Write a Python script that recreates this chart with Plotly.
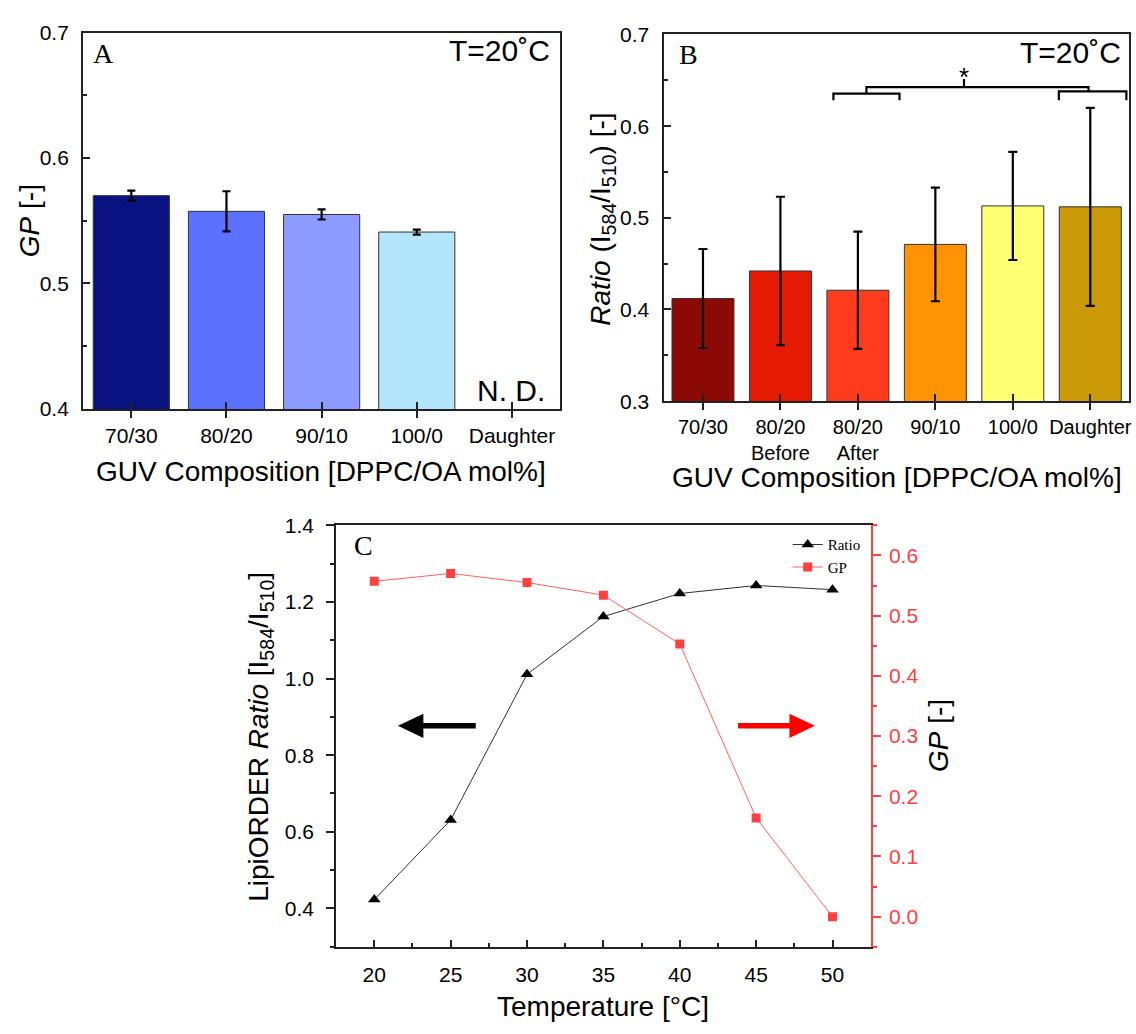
import plotly.graph_objects as go

W, H = 1136, 1034


def px(x):
    return x / W


def py(y):
    return 1 - y / H


SANS = "Liberation Sans, Arial, sans-serif"
SERIF = "Liberation Serif, Times New Roman, serif"

# ---------------- data ----------------
cats_a = ["70/30", "80/20", "90/10", "100/0", "Daughter"]
gp_a = [0.570, 0.5575, 0.555, 0.541, None]
gp_a_err = [0.004, 0.016, 0.004, 0.002, None]
colors_a = ["#0a1282", "#5b72ff", "#8d9aff", "#b3e5fb", "#ffffff"]

cats_b = ["70/30", "80/20<br>Before", "80/20<br>After", "90/10", "100/0", "Daughter"]
ratio_b = [0.412, 0.442, 0.421, 0.471, 0.513, 0.512]
ratio_b_err = [0.054, 0.081, 0.064, 0.062, 0.059, 0.108]
colors_b = ["#8b0a05", "#e41a02", "#ff3b1e", "#ff9304", "#ffff74", "#cc9a06"]

temps = [20, 25, 30, 35, 40, 45, 50]
ratio_c = [0.423, 0.631, 1.011, 1.162, 1.222, 1.243, 1.232]
gp_c = [0.557, 0.570, 0.555, 0.534, 0.453, 0.164, 0.000]

RED = "#ff4040"
AX = "#222222"

fig = go.Figure()

fig.add_trace(go.Bar(
    x=cats_a, y=gp_a, width=0.8,
    marker=dict(color=colors_a, line=dict(color="#333333", width=1)),
    error_y=dict(type="data", array=gp_a_err, color="black", thickness=2.2, width=4),
    xaxis="x", yaxis="y", showlegend=False,
))

fig.add_trace(go.Bar(
    x=cats_b, y=ratio_b, width=0.8,
    marker=dict(color=colors_b, line=dict(color="#333333", width=1)),
    error_y=dict(type="data", array=ratio_b_err, color="black", thickness=2.2, width=4.5),
    xaxis="x2", yaxis="y2", showlegend=False,
))

fig.add_trace(go.Scatter(
    x=temps, y=ratio_c, mode="lines+markers", name="Ratio",
    line=dict(color="#333333", width=1),
    marker=dict(symbol="triangle-up", size=11, color="black"),
    xaxis="x3", yaxis="y3",
))

fig.add_trace(go.Scatter(
    x=temps, y=gp_c, mode="lines+markers", name="GP",
    line=dict(color="#ff6060", width=1),
    marker=dict(symbol="square", size=9, color=RED),
    xaxis="x3", yaxis="y4",
))

# empty helper traces so the inner-tick overlay axes of panels A and B get drawn
fig.add_trace(go.Scatter(x=[], y=[], xaxis="x4", yaxis="y", showlegend=False, hoverinfo="skip"))
fig.add_trace(go.Scatter(x=[], y=[], xaxis="x5", yaxis="y2", showlegend=False, hoverinfo="skip"))

tickfont = dict(family=SANS, size=21, color="black")
tickfont_b = dict(family=SANS, size=20, color="black")
box = dict(showline=True, linecolor=AX, linewidth=1.5, mirror=True,
           showgrid=False, zeroline=False)

fig.update_layout(
    width=W, height=H,
    margin=dict(l=0, r=0, t=0, b=0),
    paper_bgcolor="white", plot_bgcolor="white",
    xaxis=dict(domain=[px(83), px(561)], anchor="y", range=[-0.51, 4.5],
               ticks="outside", ticklen=7, tickcolor=AX, tickwidth=1.5, tickfont=tickfont, **box),
    xaxis4=dict(overlaying="x", anchor="y", range=[-0.51, 4.5],
                tickvals=list(range(len(cats_a))), ticks="inside", ticklen=7, tickwidth=1.5,
                tickcolor=AX, showticklabels=False, showline=False, showgrid=False,
                zeroline=False),
    yaxis=dict(domain=[py(406), py(21)], anchor="x", range=[0.4, 0.7], dtick=0.1,
               tickformat=".1f", ticks="inside", ticklen=7, tickcolor=AX, tickwidth=1.5,
               minor=dict(dtick=0.05, ticks="inside", ticklen=4, tickcolor=AX),
               tickfont=tickfont, ticklabelstandoff=8, **box),
    xaxis2=dict(domain=[px(666), px(1132)], anchor="y2", range=[-0.5, 5.5],
                ticks="outside", ticklen=7, tickcolor=AX, tickwidth=1.5, tickfont=tickfont_b, **box),
    xaxis5=dict(overlaying="x2", anchor="y2", range=[-0.5, 5.5],
                tickvals=list(range(len(cats_b))), ticks="inside", ticklen=7, tickwidth=1.5,
                tickcolor=AX, showticklabels=False, showline=False, showgrid=False,
                zeroline=False),
    yaxis2=dict(domain=[py(398), py(23)], anchor="x2", range=[0.3, 0.7], dtick=0.1,
                tickformat=".1f", ticks="inside", ticklen=7, tickcolor=AX, tickwidth=1.5,
                minor=dict(dtick=0.05, ticks="inside", ticklen=4, tickcolor=AX),
                tickfont=tickfont, ticklabelstandoff=9, **box),
    xaxis3=dict(domain=[px(337), px(873)], anchor="y3", range=[17.5, 52.5], dtick=5,
                ticks="inside", ticklen=7, tickcolor=AX, tickwidth=1.5, tickfont=tickfont,
                minor=dict(dtick=2.5, ticks="inside", ticklen=4, tickcolor=AX),
                ticklabelstandoff=8,
                showline=True, linecolor=AX, linewidth=2, mirror=True,
                showgrid=False, zeroline=False),
    yaxis3=dict(domain=[py(956), py(525)], anchor="x3", range=[0.3, 1.4], dtick=0.2,
                tickformat=".1f", ticks="outside", ticklen=8, tickcolor=AX, tickwidth=1.5,
                minor=dict(dtick=0.1, ticks="outside", ticklen=4, tickcolor=AX),
                tickfont=tickfont, ticklabelstandoff=8,
                showline=True, linecolor=AX, linewidth=2,
                showgrid=False, zeroline=False),
    yaxis4=dict(overlaying="y3", anchor="x3", side="right", range=[-0.05, 0.65], dtick=0.1,
                tickformat=".1f", ticks="outside", ticklen=8, tickcolor=RED, tickwidth=1.5,
                minor=dict(dtick=0.05, ticks="outside", ticklen=4, tickcolor=RED),
                tickfont=dict(family=SANS, size=21, color=RED), ticklabelstandoff=4,
                showline=True, linecolor=RED, linewidth=2,
                showgrid=False, zeroline=False),
    legend=dict(x=px(868), y=py(528), xanchor="right", yanchor="top",
                bgcolor="rgba(0,0,0,0)", font=dict(family=SERIF, size=15, color="black"),
                tracegroupgap=0, itemwidth=30),
)

ann = []


def add_text(text, x, y, size=28, family=SANS, xanchor="center", yanchor="middle",
             textangle=0, color="black"):
    ann.append(dict(text=text, x=px(x), y=py(y), xref="paper", yref="paper",
                    xanchor=xanchor, yanchor=yanchor, showarrow=False, textangle=textangle,
                    font=dict(family=family, size=size, color=color)))


# axis titles
add_text("<i>GP</i> [-]", 29, 213, textangle=-90)
add_text("GUV Composition [DPPC/OA mol%]", 322, 470)
add_text("<i>Ratio</i> (I<sub>584</sub>/I<sub>510</sub>) [-]", 604, 212, textangle=-90)
add_text("GUV Composition [DPPC/OA mol%]", 899, 476)
add_text("LipiORDER <i>Ratio</i> [I<sub>584</sub>/I<sub>510</sub>]", 261, 741, textangle=-90)
add_text("<i>GP</i> [-]", 941, 740, textangle=-90)
add_text("Temperature [°C]", 605, 1017)

# panel labels and notes
add_text("A", 91, 42, size=28, family=SERIF, xanchor="left")
add_text("T=20˚C", 553, 39, size=30, xanchor="right")
add_text("N. D.", 548, 387, size=30, xanchor="right")
add_text("B", 679, 43, size=28, family=SERIF, xanchor="left")
add_text("T=20˚C", 1126, 41, size=30, xanchor="right")
add_text("C", 353, 546, size=28, family=SERIF, xanchor="left")

# significance asterisk (panel B data coordinates)
ann.append(dict(text="*", x=3.37, y=0.6534, xref="x2", yref="y2", showarrow=False,
                xanchor="center", yanchor="middle",
                font=dict(family=SANS, size=26, color="black")))

fig.update_layout(annotations=ann)

# significance bracket (panel B data coordinates)
bracket_paths = [
    "M 1.684,0.6283 L 1.684,0.6355 L 2.537,0.6355 L 2.537,0.6283",
    "M 2.11,0.6355 L 2.11,0.6425 L 4.978,0.6425 L 4.978,0.638",
    "M 4.594,0.6283 L 4.594,0.638 L 5.466,0.638 L 5.466,0.6283",
    "M 3.37,0.6425 L 3.37,0.6514",
]
shapes = []
for p in bracket_paths:
    shapes.append(dict(type="path", path=p, xref="x2", yref="y2",
                       line=dict(color="black", width=2.2)))


def arrow(x_tail, x_tip, y, color):
    direction = 1 if x_tip > x_tail else -1
    head_len, half_h = 25.5, 12.4
    base = x_tip - direction * head_len
    shapes.append(dict(type="line", xref="paper", yref="paper",
                       x0=px(x_tail), x1=px(base + direction * 2), y0=py(y), y1=py(y),
                       line=dict(color=color, width=5.5)))
    path = (f"M {px(x_tip)},{py(y)} L {px(base)},{py(y - half_h)} "
            f"L {px(base)},{py(y + half_h)} Z")
    shapes.append(dict(type="path", xref="paper", yref="paper", path=path,
                       fillcolor=color, line=dict(color=color, width=0)))


arrow(477, 399, 730, "black")
arrow(740, 817, 730, "#ff0000")

fig.update_layout(shapes=shapes)

fig.write_html(
    "out.html",
    config={"displayModeBar": False},
    post_script="document.body.style.margin='0';document.body.style.overflow='hidden';",
)
